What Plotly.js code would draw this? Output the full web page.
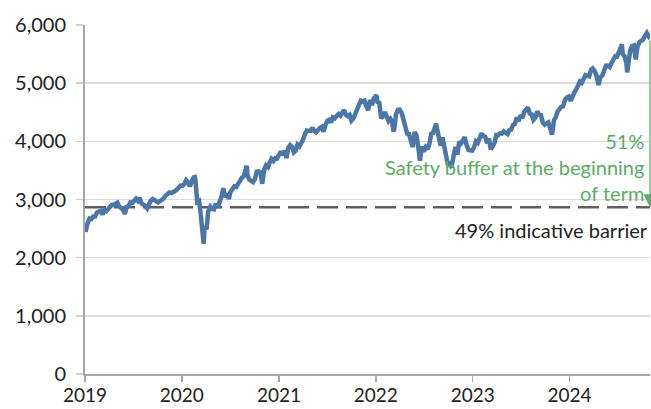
<!DOCTYPE html>
<html>
<head>
<meta charset="utf-8">
<script src="https://cdn.plot.ly/plotly-3.0.1.min.js"></script>
<style>html,body{margin:0;padding:0;background:#fff;}#chart{width:651px;height:409px;}</style>
</head>
<body>
<div id="chart"></div>
<script>
// ---- data ----
const dates = [
"2019-01-02","2019-01-03","2019-01-11","2019-01-18","2019-01-25","2019-02-01","2019-02-08","2019-02-15","2019-02-22","2019-03-01","2019-03-08","2019-03-15","2019-03-22","2019-03-29","2019-04-05","2019-04-12","2019-04-18","2019-04-26","2019-05-03","2019-05-10","2019-05-17","2019-05-24","2019-05-31","2019-06-07","2019-06-14","2019-06-21","2019-06-28","2019-07-05","2019-07-12","2019-07-19","2019-07-26","2019-08-02","2019-08-09","2019-08-16","2019-08-23","2019-08-30","2019-09-06","2019-09-13","2019-09-20","2019-09-27","2019-10-04","2019-10-11","2019-10-18","2019-10-25","2019-11-01","2019-11-08","2019-11-15","2019-11-22","2019-11-29","2019-12-06","2019-12-13","2019-12-20","2019-12-27",
"2020-01-03","2020-01-10","2020-01-17","2020-01-24","2020-01-31","2020-02-07","2020-02-14","2020-02-19","2020-02-21","2020-02-28","2020-03-06","2020-03-13","2020-03-20","2020-03-23","2020-03-27","2020-04-03","2020-04-09","2020-04-17","2020-04-24","2020-05-01","2020-05-08","2020-05-15","2020-05-22","2020-05-29","2020-06-05","2020-06-12","2020-06-19","2020-06-26","2020-07-02","2020-07-10","2020-07-17","2020-07-24","2020-07-31","2020-08-07","2020-08-14","2020-08-21","2020-08-28","2020-09-02","2020-09-04","2020-09-11","2020-09-18","2020-09-25","2020-10-02","2020-10-09","2020-10-16","2020-10-23","2020-10-30","2020-11-06","2020-11-13","2020-11-20","2020-11-27","2020-12-04","2020-12-11","2020-12-18","2020-12-24","2020-12-31",
"2021-01-08","2021-01-15","2021-01-22","2021-01-29","2021-02-05","2021-02-12","2021-02-19","2021-02-26","2021-03-05","2021-03-12","2021-03-19","2021-03-26","2021-04-01","2021-04-09","2021-04-16","2021-04-23","2021-04-30","2021-05-07","2021-05-14","2021-05-21","2021-05-28","2021-06-04","2021-06-11","2021-06-18","2021-06-25","2021-07-02","2021-07-09","2021-07-16","2021-07-23","2021-07-30","2021-08-06","2021-08-13","2021-08-20","2021-08-27","2021-09-03","2021-09-10","2021-09-17","2021-09-24","2021-10-01","2021-10-08","2021-10-15","2021-10-22","2021-10-29","2021-11-05","2021-11-12","2021-11-19","2021-11-26","2021-12-03","2021-12-10","2021-12-17","2021-12-23","2021-12-31",
"2022-01-03","2022-01-07","2022-01-14","2022-01-21","2022-01-28","2022-02-04","2022-02-11","2022-02-18","2022-02-25","2022-03-04","2022-03-08","2022-03-11","2022-03-18","2022-03-25","2022-04-01","2022-04-08","2022-04-14","2022-04-22","2022-04-29","2022-05-06","2022-05-13","2022-05-20","2022-05-27","2022-06-03","2022-06-10","2022-06-16","2022-06-24","2022-07-01","2022-07-08","2022-07-15","2022-07-22","2022-07-29","2022-08-05","2022-08-12","2022-08-16","2022-08-19","2022-08-26","2022-09-02","2022-09-09","2022-09-16","2022-09-23","2022-09-30","2022-10-07","2022-10-12","2022-10-14","2022-10-21","2022-10-28","2022-11-04","2022-11-11","2022-11-18","2022-11-25","2022-12-02","2022-12-09","2022-12-16","2022-12-23","2022-12-30",
"2023-01-06","2023-01-13","2023-01-20","2023-01-27","2023-02-03","2023-02-10","2023-02-17","2023-02-24","2023-03-03","2023-03-10","2023-03-17","2023-03-24","2023-03-31","2023-04-06","2023-04-14","2023-04-21","2023-04-28","2023-05-05","2023-05-12","2023-05-19","2023-05-26","2023-06-02","2023-06-09","2023-06-16","2023-06-23","2023-06-30","2023-07-07","2023-07-14","2023-07-21","2023-07-28","2023-08-04","2023-08-11","2023-08-18","2023-08-25","2023-09-01","2023-09-08","2023-09-15","2023-09-22","2023-09-29","2023-10-06","2023-10-13","2023-10-20","2023-10-27","2023-11-03","2023-11-10","2023-11-17","2023-11-24","2023-12-01","2023-12-08","2023-12-15","2023-12-22","2023-12-29",
"2024-01-05","2024-01-12","2024-01-19","2024-01-26","2024-02-02","2024-02-09","2024-02-16","2024-02-23","2024-03-01","2024-03-08","2024-03-15","2024-03-22","2024-03-28","2024-04-05","2024-04-12","2024-04-19","2024-04-26","2024-05-03","2024-05-10","2024-05-17","2024-05-24","2024-05-31","2024-06-07","2024-06-14","2024-06-21","2024-06-28","2024-07-05","2024-07-12","2024-07-16","2024-07-19","2024-07-26","2024-08-02","2024-08-05","2024-08-09","2024-08-16","2024-08-23","2024-08-30","2024-09-06","2024-09-13","2024-09-20","2024-09-27","2024-10-04","2024-10-11","2024-10-18","2024-10-25","2024-10-30"
];
const values = [
2510,2448,2596,2671,2665,2707,2708,2776,2793,2804,2743,2822,2800,2834,2893,2907,2905,2940,2946,2881,2860,2826,2752,2873,2887,2950,2942,2990,3014,2977,3026,2932,2919,2889,2847,2926,2979,3007,2992,2962,2952,2970,2986,3023,3067,3093,3120,3110,3141,3146,3169,3221,3240,
3235,3265,3330,3295,3226,3328,3380,3386,3338,2954,2972,2711,2305,2237,2541,2489,2790,2875,2837,2831,2930,2864,2955,3044,3194,3041,3098,3009,3130,3185,3225,3216,3271,3351,3373,3397,3508,3580,3427,3341,3319,3298,3348,3477,3484,3465,3270,3509,3585,3557,3638,3699,3663,3709,3703,3756,
3825,3768,3841,3714,3887,3934,3907,3811,3842,3943,3913,3975,4020,4129,4185,4180,4181,4233,4174,4156,4204,4230,4247,4166,4281,4352,4370,4327,4412,4395,4437,4468,4442,4509,4535,4459,4433,4455,4357,4391,4471,4545,4605,4697,4683,4698,4595,4538,4712,4620,4726,4766,
4797,4677,4663,4398,4432,4501,4419,4349,4385,4329,4171,4204,4463,4543,4546,4488,4392,4272,4132,4123,4024,3901,4158,4109,3901,3667,3912,3825,3899,3863,3962,4130,4145,4280,4305,4228,4058,3924,4067,3873,3693,3586,3640,3577,3583,3752,3901,3771,3993,3965,4026,4072,3934,3852,3845,3840,
3895,3999,3973,4071,4136,4090,4079,3970,4046,3862,3917,3971,4109,4105,4138,4133,4169,4136,4124,4192,4205,4282,4299,4410,4348,4450,4399,4505,4536,4582,4478,4464,4370,4406,4516,4457,4450,4320,4288,4308,4327,4224,4117,4358,4415,4514,4559,4595,4604,4719,4755,4770,
4697,4784,4840,4891,4959,5027,5006,5089,5137,5124,5117,5234,5254,5204,5123,4967,5100,5128,5223,5303,5305,5278,5347,5432,5465,5460,5567,5615,5667,5505,5459,5347,5186,5344,5554,5635,5648,5408,5626,5703,5738,5751,5815,5864,5808,5845
];
const barrierValue = 2865;
const barrierLabel = "49% indicative barrier";
const bufferLabel = ["51%", "Safety buffer at the beginning", "of term"];
const yearTicks = ["2019-01-01","2020-01-01","2021-01-01","2022-01-01","2023-01-01","2024-01-01"];
const yearLabels = ["2019","2020","2021","2022","2023","2024"];

// ---- chart ----
const startDate = "2019-01-01";
const endDate = dates[dates.length - 1];
const lastValue = values[values.length - 1];
const FONT = "Lato, 'DejaVu Sans', sans-serif";
const GREEN = "#5aae61";

const traces = [
  {
    x: [startDate, endDate], y: [barrierValue, barrierValue],
    type: "scatter", mode: "lines", hoverinfo: "skip",
    line: {color: "#5f5f5f", width: 2.5, dash: "21px,8px"}
  },
  {
    x: dates, y: values, type: "scatter", mode: "lines",
    line: {color: "#4a76a8", width: 4.5, shape: "linear"}
  }
];

const layout = {
  width: 651, height: 409,
  margin: {l: 85, r: 1, t: 25, b: 35},
  paper_bgcolor: "#fff", plot_bgcolor: "#fff",
  showlegend: false,
  font: {family: FONT, size: 20, color: "#222"},
  xaxis: {
    type: "date", range: [startDate, endDate],
    tickmode: "array", tickvals: yearTicks, ticktext: yearLabels,
    ticks: "outside", ticklen: 6, tickwidth: 1.5, tickcolor: "#a6a6a6",
    showline: true, linecolor: "#a6a6a6", linewidth: 2,
    showgrid: false, zeroline: false,
    ticklabelstandoff: -3,
    tickfont: {family: FONT, size: 19, color: "#222"}
  },
  yaxis: {
    range: [0, 6000], dtick: 1000, tickformat: ",",
    ticks: "outside", ticklen: 7, tickwidth: 1.5, tickcolor: "#cfcfcf",
    showline: true, linecolor: "#a6a6a6", linewidth: 2,
    showgrid: true, gridcolor: "#dcdcdc", gridwidth: 1.5, zeroline: false,
    ticklabelstandoff: 6,
    tickfont: {family: FONT, size: 20, color: "#222"}
  },
  annotations: [
    {
      x: endDate, y: barrierValue, xref: "x", yref: "y",
      ax: endDate, ay: lastValue * 0.985, axref: "x", ayref: "y",
      text: "", showarrow: true, arrowhead: 2, arrowsize: 2.2, arrowwidth: 1.2,
      arrowcolor: GREEN, standoff: 0, startstandoff: 0
    },
    {
      x: 1, xref: "paper", y: 3560, yref: "y", xanchor: "right", yanchor: "middle",
      xshift: -4, align: "right", showarrow: false,
      text: bufferLabel.join("<br>"),
      font: {family: FONT, size: 20, color: GREEN}
    },
    {
      x: 1, xref: "paper", y: 2480, yref: "y", xanchor: "right", yanchor: "middle",
      align: "right", showarrow: false, text: barrierLabel,
      font: {family: FONT, size: 20, color: "#222"}
    }
  ]
};

Plotly.newPlot("chart", traces, layout, {displayModeBar: false, staticPlot: true});
</script>
</body>
</html>
